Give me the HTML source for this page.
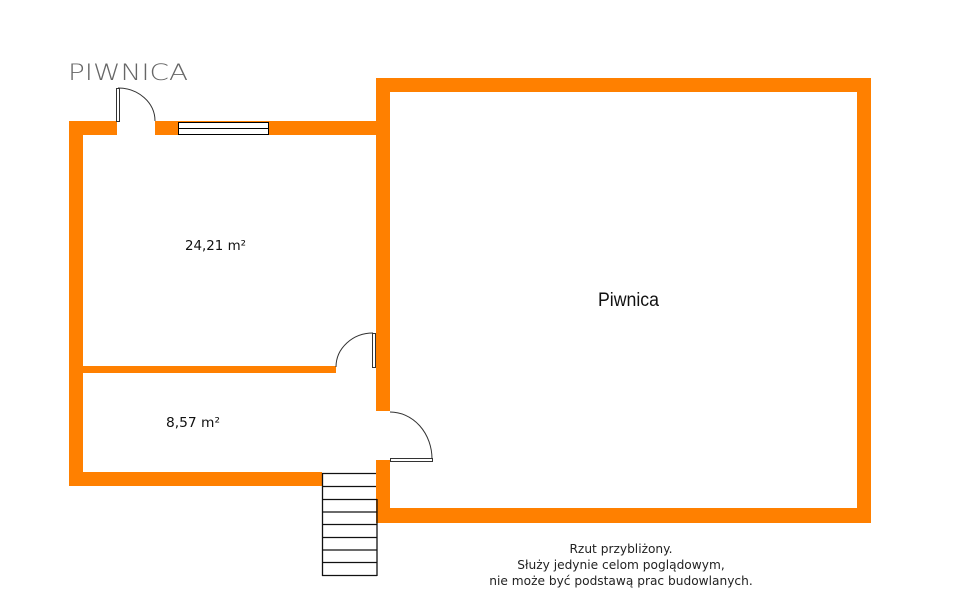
<!DOCTYPE html>
<html><head><meta charset="utf-8"><style>
html,body{margin:0;padding:0;background:#fff;width:961px;height:612px;overflow:hidden}
</style></head><body>
<svg width="961" height="612" viewBox="0 0 961 612" xmlns="http://www.w3.org/2000/svg">
<g fill="#ff8000">
<rect x="376" y="78" width="495" height="14"/>
<rect x="857" y="78" width="14" height="445"/>
<rect x="376" y="508" width="495" height="15"/>
<rect x="376" y="78" width="14" height="333"/>
<rect x="376" y="460" width="14" height="63"/>
<rect x="69" y="121" width="48" height="14"/>
<rect x="155" y="121" width="221" height="14"/>
<rect x="69" y="121" width="14" height="365"/>
<rect x="69" y="472" width="253" height="14"/>
<rect x="83" y="366" width="253" height="7"/>
</g>
<rect x="178.5" y="122.5" width="90" height="12" fill="#fff" stroke="#000" stroke-width="1"/>
<line x1="178" y1="128.5" x2="268" y2="128.5" stroke="#000" stroke-width="1"/>
<rect x="116.5" y="88.5" width="3" height="33" fill="#fff" stroke="#333" stroke-width="1"/>
<path d="M118 88 A37 33 0 0 1 155 121" fill="none" stroke="#333" stroke-width="1"/>
<rect x="372.5" y="333.5" width="3" height="34" fill="#fff" stroke="#333" stroke-width="1"/>
<path d="M336 367 A37 34 0 0 1 373 333" fill="none" stroke="#333" stroke-width="1"/>
<rect x="390.5" y="458.5" width="42" height="3" fill="#fff" stroke="#333" stroke-width="1"/>
<path d="M390 412 A42 47 0 0 1 432 459" fill="none" stroke="#333" stroke-width="1"/>
<g stroke="#111" stroke-width="1.3" fill="none">
<line x1="322.5" y1="473" x2="322.5" y2="576"/>
<line x1="377" y1="499" x2="377" y2="576"/>
<line x1="322" y1="473.5" x2="376" y2="473.5"/>
<line x1="322" y1="486.5" x2="376" y2="486.5"/>
<line x1="322" y1="499.5" x2="377" y2="499.5"/>
<line x1="322" y1="512" x2="377" y2="512"/>
<line x1="322" y1="524.5" x2="377" y2="524.5"/>
<line x1="322" y1="537.5" x2="377" y2="537.5"/>
<line x1="322" y1="550" x2="377" y2="550"/>
<line x1="322" y1="562.5" x2="377" y2="562.5"/>
<line x1="322" y1="575.5" x2="377" y2="575.5"/>
</g>
<text x="68" y="80" font-family="DejaVu Sans, Liberation Sans, sans-serif" font-size="22" font-weight="200" fill="#666" textLength="120" lengthAdjust="spacingAndGlyphs">PIWNICA</text>
<text x="185" y="250" font-family="DejaVu Sans, sans-serif" font-size="13.5" fill="#111" textLength="61" lengthAdjust="spacingAndGlyphs">24,21 m²</text>
<text x="166" y="427" font-family="DejaVu Sans, sans-serif" font-size="13.5" fill="#111" textLength="54" lengthAdjust="spacingAndGlyphs">8,57 m²</text>
<text x="598" y="306" font-family="Liberation Sans, sans-serif" font-size="19" fill="#111" textLength="61" lengthAdjust="spacingAndGlyphs">Piwnica</text>
<g font-family="DejaVu Sans, sans-serif" font-size="12.2" fill="#222" text-anchor="middle">
<text x="621" y="553">Rzut przybliżony.</text>
<text x="621" y="569">Służy jedynie celom poglądowym,</text>
<text x="621" y="585">nie może być podstawą prac budowlanych.</text>
</g>
</svg>
</body></html>
